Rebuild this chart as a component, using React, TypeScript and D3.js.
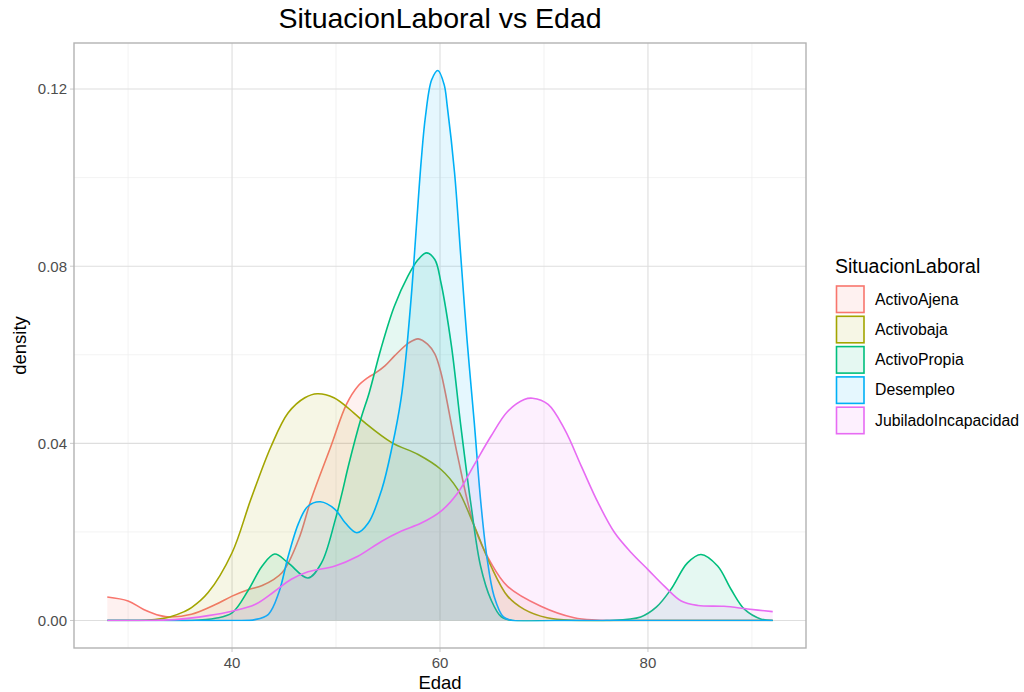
import React from "react";
import * as d3 from "d3";

const seriesNames = ["ActivoAjena", "Activobaja", "ActivoPropia", "Desempleo", "JubiladoIncapacidad"];
const seriesColors = ["#F8766D", "#A3A500", "#00BF7D", "#00B0F6", "#E76BF3"];

const ajena: [number, number][] = [
  [28, 0.0053], [30, 0.0044], [31.5, 0.0025], [33.1, 0.0011], [34, 0.0008], [36.1, 0.0014], [38.4, 0.0036],
  [40, 0.0055], [41.6, 0.007], [42.9, 0.0079], [44.8, 0.0108], [46.4, 0.0183], [47.6, 0.0273], [49.5, 0.0393],
  [51, 0.0488], [52.1, 0.0529], [53.1, 0.0549], [53.8, 0.0559], [54.7, 0.0575], [55.6, 0.0597], [57, 0.0627],
  [57.9, 0.0636], [58.8, 0.0624], [59.5, 0.0602], [60.1, 0.0559], [61.7, 0.0371], [63.3, 0.0213], [64.9, 0.013],
  [66.5, 0.0077], [69.7, 0.0032], [72.9, 0.0006], [75, 0.0001], [78, 0], [85, 0], [92, 0],
];
const baja: [number, number][] = [
  [28, 0], [30, 0], [32, 0.0001], [34, 0.0008], [35.4, 0.002], [36.1, 0.0029], [37.7, 0.0063], [40, 0.0153],
  [41.8, 0.0273], [43.75, 0.0393], [45.4, 0.0469], [47, 0.0503], [48.2, 0.0512], [49.8, 0.0503], [51.7, 0.0469],
  [52.8, 0.0446], [55.4, 0.0401], [57.9, 0.0375], [60.1, 0.0341], [61.7, 0.0296], [63.3, 0.0213], [64.9, 0.0123],
  [66.5, 0.0055], [68.1, 0.0025], [70.3, 0.0006], [73, 0], [80, 0], [92, 0],
];
const propia: [number, number][] = [
  [28, 0], [33, 0], [36, 0], [38.4, 0.0005], [40, 0.0017], [41.6, 0.007], [42.9, 0.0123], [44.1, 0.015],
  [45.4, 0.013], [47.3, 0.0096], [48.6, 0.013], [49.9, 0.0225], [50.6, 0.029], [51.2, 0.035], [52.4, 0.0456],
  [53.2, 0.0515], [54.3, 0.0612], [55.6, 0.0709], [56.9, 0.0777], [57.9, 0.0815], [58.7, 0.083], [59.5, 0.0815],
  [60.1, 0.0762], [61.1, 0.062], [62, 0.044], [63, 0.0258], [63.9, 0.0123], [64.9, 0.0047], [65.9, 0.0008],
  [67, 0], [71, 0], [76, 0], [79.3, 0.0008], [80.8, 0.003], [82.2, 0.007], [83.8, 0.013], [85.1, 0.0149],
  [86.7, 0.0123], [88, 0.007], [89.3, 0.0025], [90.9, 0.0003], [92, 0],
];
const desempleo: [number, number][] = [
  [28, 0], [34, 0], [40, 0], [42.2, 0.0002], [43.5, 0.0014], [44.5, 0.0063], [45.4, 0.0145], [46.4, 0.022],
  [47.3, 0.0258], [48.5, 0.0268], [49.9, 0.0251], [50.9, 0.022], [52, 0.0198], [53.1, 0.022], [54.4, 0.0296],
  [55.4, 0.0393], [56.25, 0.05], [56.7, 0.059], [57.3, 0.075], [57.7, 0.088], [58.2, 0.104], [58.6, 0.1138],
  [59.2, 0.1221], [59.8, 0.1242], [60.4, 0.121], [60.7, 0.1161], [61.4, 0.1011], [62, 0.0822], [62.6, 0.0634],
  [63.3, 0.0446], [63.9, 0.0273], [64.5, 0.0145], [65.2, 0.0055], [66.1, 0.0008], [67, 0], [72, 0], [82, 0],
  [92, 0],
];
const jubilado: [number, number][] = [
  [28, 0], [31, 0], [34.5, 0.0002], [37.7, 0.0011], [40, 0.0021], [42.2, 0.0036], [44.1, 0.0066], [45.7, 0.0093],
  [47.3, 0.011], [49.9, 0.0123], [52.1, 0.0145], [54.4, 0.0179], [56.3, 0.0202], [58.2, 0.022], [60.1, 0.0247],
  [61.7, 0.0288], [63.3, 0.0352], [64.9, 0.0416], [66.5, 0.0472], [68.1, 0.0499], [68.9, 0.0502], [70.4, 0.0488],
  [72, 0.0431], [73.6, 0.0348], [75.2, 0.0266], [76.8, 0.0198], [78.4, 0.0153], [80, 0.0115], [81.6, 0.0077],
  [83.2, 0.0044], [84.8, 0.0034], [87.3, 0.0032], [89.6, 0.0026], [92, 0.002],
];
const seriesData = [ajena, baja, propia, desempleo, jubilado];

const xTicks = [40, 60, 80];
const xMinor = [30, 50, 70, 90];
const yTicks = [0, 0.04, 0.08, 0.12];
const yMinor = [0.02, 0.06, 0.1];

const W = 1024, H = 692;
const panel = { left: 74, right: 806, top: 43, bottom: 648 };
const FONT = "'Liberation Sans', Arial, sans-serif";

export default function App() {
  const x = d3.scaleLinear().domain([24.8, 95.2]).range([panel.left, panel.right]);
  const y = d3.scaleLinear().domain([-0.00621, 0.1304]).range([panel.bottom, panel.top]);
  const curve = d3.curveCatmullRom.alpha(0.5);
  const area = d3.area<[number, number]>().x((d) => x(d[0])).y0(y(0)).y1((d) => y(Math.max(0, d[1]))).curve(curve);
  const line = d3.line<[number, number]>().x((d) => x(d[0])).y((d) => y(d[1])).curve(curve);
  const cx = (panel.left + panel.right) / 2;
  const cy = (panel.top + panel.bottom) / 2;

  return (
    <svg width={W} height={H} style={{ position: "absolute", left: 0, top: 0, background: "#fff" }} fontFamily={FONT}>
      <rect x={0} y={0} width={W} height={H} fill="#fff" />
      <defs>
        <clipPath id="panelClip">
          <rect x={panel.left} y={panel.top} width={panel.right - panel.left} height={y(0) - panel.top + 0.8} />
        </clipPath>
      </defs>
      <g>
        {xMinor.map((t) => (
          <line key={"xm" + t} x1={x(t)} x2={x(t)} y1={panel.top} y2={panel.bottom} stroke="#ededed" strokeWidth={0.7} />
        ))}
        {yMinor.map((t) => (
          <line key={"ym" + t} x1={panel.left} x2={panel.right} y1={y(t)} y2={y(t)} stroke="#ededed" strokeWidth={0.7} />
        ))}
        {xTicks.map((t) => (
          <line key={"xM" + t} x1={x(t)} x2={x(t)} y1={panel.top} y2={panel.bottom} stroke="#dedede" strokeWidth={1.1} />
        ))}
        {yTicks.map((t) => (
          <line key={"yM" + t} x1={panel.left} x2={panel.right} y1={y(t)} y2={y(t)} stroke="#dedede" strokeWidth={1.1} />
        ))}
      </g>
      <g clipPath="url(#panelClip)">
        {seriesData.map((s, i) => (
          <g key={seriesNames[i]}>
            <path d={area(s) || ""} fill={seriesColors[i]} fillOpacity={0.1} stroke="none" />
            <path d={line(s) || ""} fill="none" stroke={seriesColors[i]} strokeWidth={1.6} />
          </g>
        ))}
      </g>
      <rect x={panel.left} y={panel.top} width={panel.right - panel.left} height={panel.bottom - panel.top} fill="none" stroke="#b3b3b3" strokeWidth={1.4} />
      {xTicks.map((t) => (
        <g key={"xt" + t}>
          <line x1={x(t)} x2={x(t)} y1={panel.bottom} y2={panel.bottom + 4} stroke="#b3b3b3" strokeWidth={0.7} />
          <text x={x(t)} y={668} textAnchor="middle" fontSize={15} fill="#4d4d4d">{t}</text>
        </g>
      ))}
      {yTicks.map((t) => (
        <g key={"yt" + t}>
          <line x1={panel.left - 4} x2={panel.left} y1={y(t)} y2={y(t)} stroke="#b3b3b3" strokeWidth={0.7} />
          <text x={panel.left - 7} y={y(t) + 5.3} textAnchor="end" fontSize={15} fill="#4d4d4d">{t.toFixed(2)}</text>
        </g>
      ))}
      <text x={cx} y={28} textAnchor="middle" fontSize={28.5} fill="#000">SituacionLaboral vs Edad</text>
      <text x={cx} y={689} textAnchor="middle" fontSize={18.5} fill="#000">Edad</text>
      <text transform={`translate(26,${cy}) rotate(-90)`} textAnchor="middle" fontSize={18.5} fill="#000">density</text>
      <text x={835} y={273} fontSize={19.5} fill="#000">SituacionLaboral</text>
      {seriesNames.map((n, i) => {
        const top = 285.5 + i * 30.3;
        return (
          <g key={"lg" + n}>
            <rect x={836.5} y={top + 0.5} width={27.5} height={26.5} fill={seriesColors[i]} fillOpacity={0.1} stroke={seriesColors[i]} strokeWidth={1.6} />
            <text x={875} y={top + 19} fontSize={15.8} fill="#000">{n}</text>
          </g>
        );
      })}
    </svg>
  );
}
